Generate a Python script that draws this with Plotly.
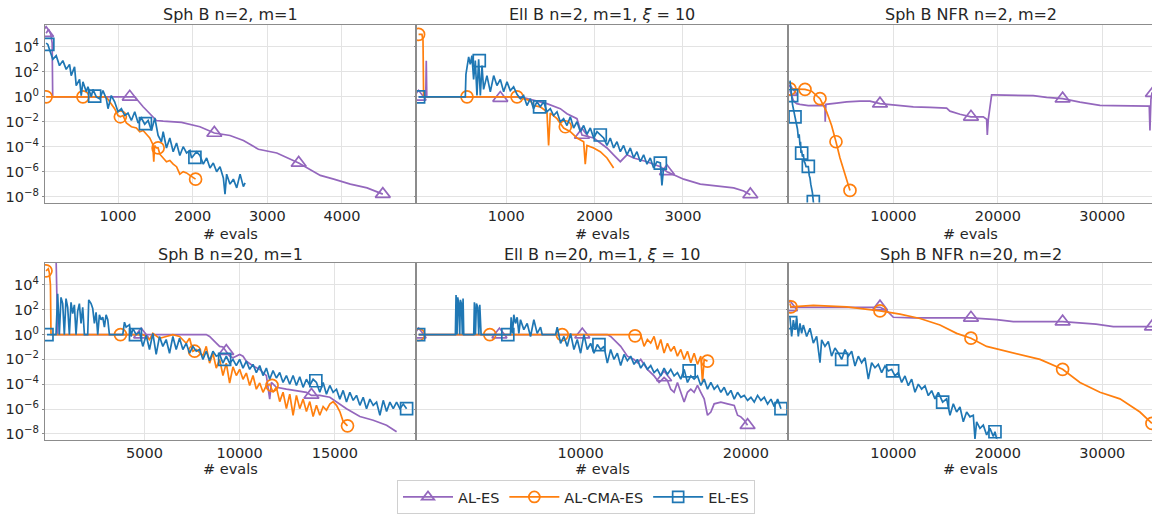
import numpy as np
import plotly.graph_objects as go

# ---------------- data (x = # evals, e = log10 of the plotted value) ----------------
series_names = ["AL-ES", "AL-CMA-ES", "EL-ES"]
panel_titles = ["Sph B n=2, m=1", "Ell B n=2, m=1, <i>ξ</i> = 10", "Sph B NFR n=2, m=2",
                "Sph B n=20, m=1", "Ell B n=20, m=1, <i>ξ</i> = 10", "Sph B NFR n=20, m=2"]
y_tick_exps = [-8, -6, -4, -2, 0, 2, 4]
y_tick_text = ["10<sup>−8</sup>", "10<sup>−6</sup>", "10<sup>−4</sup>", "10<sup>−2</sup>",
               "10<sup>0</sup>", "10<sup>2</sup>", "10<sup>4</sup>"]
x_ticks_p1 = [1000, 2000, 3000, 4000]
x_ticks_p2 = [1000, 2000, 3000]
x_ticks_p3 = [10000, 20000, 30000]
x_ticks_p4 = [5000, 10000, 15000]
x_ticks_p5 = [10000, 20000]
x_ticks_p6 = [10000, 20000, 30000]

# Panel 1: Sph B n=2, m=1
p1_al_es = [(37, 5.1), (70, 5.4), (100, 5.0), (118, 4.3), (125, 0.0), (1224, 0.0), (1336, -0.8),
            (1515, -1.9), (1605, -1.95), (1851, -2.05), (2097, -2.4), (2290, -2.9), (2500, -3.1),
            (2680, -3.5), (2880, -4.2), (3127, -4.5), (3420, -5.3), (3710, -6.3), (3890, -6.6),
            (4112, -7.0), (4336, -7.3), (4547, -7.8)]
p1_al_es_marks = [(37, 5.1), (1157, 0.0), (2290, -2.9), (3420, -5.3), (4547, -7.8)]
p1_al_cma = [(37, 0.0), (843, 0.0), (888, -0.4), (955, -0.95), (1000, -1.5), (1031, -1.6),
             (1067, -1.5), (1112, -2.1), (1179, -2.4), (1246, -2.5), (1291, -2.8), (1336, -2.7),
             (1381, -3.0), (1425, -3.3), (1465, -3.8), (1479, -5.2), (1490, -3.9), (1515, -4.1),
             (1537, -4.1), (1560, -4.6), (1605, -4.9), (1649, -5.2), (1694, -5.1), (1739, -5.4),
             (1784, -5.6), (1828, -6.2), (1873, -6.0), (1918, -6.1), (1963, -6.3), (2039, -6.6)]
p1_al_cma_marks = [(37, 0.0), (530, 0.0), (1031, -1.6), (1537, -4.1), (2039, -6.6)]
p1_el_es = [(37, 4.3), (60, 4.2), (82, 3.8), (127, 3.0), (172, 3.3), (216, 2.5), (261, 2.9),
            (306, 2.2), (351, 2.6), (373, 1.7), (418, 2.4), (440, 0.9), (485, 1.4), (507, 0.1),
            (530, 1.2), (575, 0.4), (597, 0.8), (642, 0.0), (664, 0.6), (709, 0.0), (754, -0.15),
            (798, 0.5), (843, -0.15), (866, -0.95), (910, 0.1), (955, -0.4), (1000, -1.2),
            (1045, -0.95), (1090, -1.5), (1134, -1.3), (1179, -1.9), (1224, -1.2), (1269, -2.1),
            (1313, -1.7), (1358, -2.2), (1403, -1.9), (1448, -2.7), (1493, -1.7), (1537, -3.1),
            (1582, -3.6), (1605, -2.8), (1649, -4.1), (1694, -3.3), (1739, -4.4), (1784, -3.7),
            (1828, -4.7), (1873, -4.0), (1918, -4.5), (1963, -4.3), (1985, -4.9), (2052, -4.4),
            (2097, -4.7), (2142, -5.4), (2187, -4.9), (2232, -5.7), (2276, -5.3), (2321, -6.0),
            (2366, -5.6), (2411, -6.5), (2433, -7.8), (2455, -6.2), (2500, -7.0), (2545, -6.6),
            (2590, -7.3), (2635, -6.2), (2679, -7.2), (2702, -6.9)]
p1_el_es_marks = [(60, 4.2), (687, 0.05), (1367, -2.15), (2030, -4.86)]

# Panel 2: Ell B n=2, m=1, xi=10
p2_al_es = [(7, 0.0), (88, 0.0), (94, 2.9), (100, 0.0), (1159, 0.0), (1309, -0.3), (1460, -0.55),
            (1611, -0.95), (1687, -1.35), (1800, -1.75), (1857, -3.06), (1989, -3.3), (2140, -4.1),
            (2215, -4.65), (2291, -5.2), (2366, -4.65), (2442, -4.9), (2593, -5.2), (2744, -5.6),
            (2819, -6.0), (3008, -6.6), (3196, -7.0), (3385, -7.15), (3574, -7.3), (3687, -7.55),
            (3763, -7.85)]
p2_al_es_marks = [(7, 0.0), (932, -0.1), (1857, -3.06), (2819, -5.97), (3763, -7.83)]
p2_al_cma = [(7, 5.0), (45, 5.0), (57, 4.5), (64, 0.0), (1121, 0.0), (1196, -0.15), (1272, -0.3),
             (1309, -0.7), (1385, -0.8), (1460, -1.2), (1479, -3.9), (1498, -1.3), (1574, -1.75),
             (1649, -2.5), (1725, -2.8), (1800, -3.3), (1876, -3.6), (1894, -5.4), (1913, -3.9),
             (1989, -4.1), (2064, -4.4), (2140, -4.9), (2215, -5.7)]
p2_al_cma_marks = [(7, 5.0), (555, 0.0), (1121, 0.0), (1668, -2.4)]
p2_el_es = [(7, 0.0), (536, 0.0), (543, 1.8), (574, 3.2), (592, 2.6), (611, 3.3), (630, 1.4),
            (649, 2.9), (668, 0.1), (687, 3.0), (706, 0.1), (725, 2.5), (743, 0.6), (781, 1.7),
            (819, 0.4), (857, 1.7), (894, 0.9), (932, 1.4), (970, 0.4), (1008, 1.2), (1045, 0.5),
            (1083, 0.8), (1121, 0.2), (1159, -0.15), (1196, 0.1), (1234, -0.7), (1272, -0.15),
            (1309, -0.95), (1347, -0.4), (1385, -0.8), (1423, -0.4), (1460, -1.2), (1498, -0.95),
            (1536, -1.5), (1574, -1.2), (1611, -2.0), (1649, -1.75), (1687, -2.3), (1725, -1.6),
            (1762, -2.5), (1800, -2.0), (1838, -2.8), (1876, -2.3), (1913, -3.0), (1951, -2.5),
            (1989, -3.3), (2027, -2.8), (2064, -3.06), (2102, -3.3), (2140, -3.9), (2177, -3.3),
            (2215, -4.1), (2253, -3.6), (2291, -4.4), (2328, -3.9), (2366, -4.65), (2404, -4.1),
            (2442, -4.9), (2479, -4.4), (2517, -5.2), (2555, -4.65), (2593, -5.4), (2630, -4.9),
            (2668, -5.7), (2706, -5.2), (2744, -5.3), (2762, -7.1), (2781, -5.7)]
p2_el_es_marks = [(7, 0.0), (694, 2.9), (1377, -0.8), (2064, -3.06), (2744, -5.31)]

# Panel 3: Sph B NFR n=2, m=2
p3_al_es = [(111, 0.5), (270, 0.0), (430, -0.3), (590, -0.45), (750, -0.55), (1068, -0.6),
            (1866, -0.7), (3000, -0.68), (3460, -0.7), (3480, -2.0), (3550, -0.6), (4577, -0.5),
            (5534, -0.4), (6810, -0.35), (7767, -0.35), (8724, -0.55), (10319, -0.68),
            (11914, -0.8), (13509, -0.85), (15104, -0.9), (15423, -1.15), (16380, -1.4),
            (17433, -1.6), (18613, -1.6), (18932, -1.8), (18996, -3.06), (19092, -1.8),
            (19411, 0.15), (19570, 0.15), (21484, 0.15), (23398, 0.1), (24674, -0.05),
            (26205, -0.15), (27864, -0.42), (29778, -0.68), (31054, -0.7), (32649, -0.72),
            (34244, -0.75), (34499, -0.75), (34563, -2.7), (34659, -0.2), (34754, 0.3), (35000, 0.3)]
p3_al_es_marks = [(111, 0.4), (8724, -0.55), (17433, -1.6), (26205, -0.15), (34850, 0.3)]
p3_al_cma = [(111, 0.64), (800, 0.62), (1547, 0.6), (2185, 0.45), (2982, -0.15), (3620, -1.2),
             (4092, -2.3), (4513, -3.6), (4896, -4.9), (5375, -6.2), (5853, -7.5)]
p3_al_cma_marks = [(111, 0.64), (1547, 0.6), (2982, -0.15), (4513, -3.6), (5853, -7.5)]
p3_el_es = [(111, 1.3), (207, 0.2), (270, 0.1), (350, -0.6), (430, -0.9), (510, -1.4), (590, -1.6),
            (670, -1.9), (750, -2.3), (830, -2.6), (909, -3.3), (990, -3.0), (1068, -3.9),
            (1120, -3.6), (1164, -4.5), (1228, -4.3), (1300, -4.8), (1387, -4.6), (1470, -5.2),
            (1547, -5.3), (1650, -5.6), (1866, -5.6), (1950, -6.3), (2025, -6.5), (2100, -7.0),
            (2185, -7.3), (2260, -7.7), (2344, -8.4), (2420, -8.8)]
p3_el_es_marks = [(270, 0.1), (590, -1.61), (1228, -4.52), (1866, -5.58), (2344, -8.4)]

# Panel 4: Sph B n=20, m=1
p4_al_es = [(352, 6.5), (440, 0.0), (8245, 0.0), (8420, -0.15), (8771, -0.68), (8947, -0.95),
            (9122, -1.0), (9297, -1.34), (9473, -1.74), (9648, -1.87), (9999, -1.6), (10175, -1.74),
            (10350, -2.14), (10701, -2.53), (11052, -2.8), (11402, -3.3), (11578, -5.2),
            (11665, -3.86), (11929, -4.25), (12455, -4.4), (12981, -4.5), (13507, -4.65),
            (13770, -4.9), (14209, -4.9), (14735, -5.05), (15086, -5.44), (15612, -5.97),
            (16314, -6.6), (17015, -6.9), (17717, -7.3), (18243, -7.83)]
p4_al_es_marks = [(4826, 0.0), (9297, -1.34), (13770, -4.86)]
p4_al_cma = [(-174, 5.14), (-50, 5.3), (1, 5.0), (60, 4.0), (89, 0.0), (3737, 0.0), (4912, 0.0),
             (5088, -0.15), (5263, -0.4), (5439, 0.1), (5789, -0.3), (6140, -0.15), (6491, 0.0),
             (6842, -0.15), (7193, -0.7), (7368, -0.3), (7543, -1.34), (7719, -1.2), (8070, -1.7),
             (8245, -0.95), (8420, -2.3), (8596, -1.5), (8771, -2.7), (8947, -2.0), (9122, -3.3),
             (9297, -2.3), (9473, -3.9), (9648, -2.6), (9824, -3.3), (9999, -2.8), (10175, -3.6),
             (10350, -3.1), (10525, -4.1), (10701, -3.3), (10876, -4.4), (11052, -3.9),
             (11227, -4.65), (11402, -4.1), (11578, -4.0), (11753, -4.65), (11929, -4.25),
             (12104, -5.4), (12279, -4.65), (12455, -5.97), (12630, -4.8), (12806, -6.5),
             (12981, -4.9), (13156, -5.97), (13332, -5.2), (13507, -6.2), (13683, -5.4),
             (13858, -6.6), (14033, -5.7), (14209, -6.5), (14384, -5.8), (14559, -6.1),
             (14735, -5.6), (14910, -5.4), (15086, -5.7), (15261, -6.2), (15436, -7.0),
             (15664, -7.35)]
p4_al_cma_marks = [(-174, 5.14), (3737, 0.0), (7631, -1.34), (11700, -4.1), (15664, -7.35)]
p4_el_es = [(-122, 0.0), (352, 0.0), (440, 3.3), (527, 0.0), (615, 3.0), (703, 2.5), (790, 0.0),
            (878, 2.9), (966, 2.2), (1054, 0.0), (1141, 2.6), (1229, 1.7), (1317, 2.4), (1404, 0.0),
            (1492, 1.9), (1580, 2.5), (1667, 0.9), (1755, 2.2), (1843, 0.0), (2018, 0.0),
            (2071, 2.8), (2194, 2.5), (2281, 2.1), (2369, 0.9), (2457, 1.8), (2544, 0.0),
            (2632, 1.6), (2720, 1.2), (2807, 1.4), (2895, 0.6), (2983, 1.6), (3071, 1.2),
            (3158, 0.0), (3860, 0.0), (3948, 1.0), (4035, 0.6), (4211, 0.8), (4298, -0.15),
            (4386, 0.5), (4561, 0.0), (4737, 0.2), (4912, -0.95), (5088, -0.05), (5263, -1.2),
            (5439, 0.1), (5614, -1.6), (5789, -0.15), (5965, -0.95), (6140, -0.4), (6316, -1.5),
            (6491, -0.15), (6666, -1.2), (6842, -0.3), (7017, -1.2), (7193, -0.7), (7368, -1.5),
            (7543, -0.95), (7719, -1.34), (7894, -1.2), (8070, -2.0), (8245, -1.34), (8420, -2.1),
            (8596, -1.34), (8771, -1.74), (8947, -1.6), (9122, -2.3), (9297, -1.74), (9473, -2.3),
            (9648, -2.0), (9824, -2.5), (9999, -2.0), (10175, -2.7), (10350, -2.14), (10525, -2.8),
            (10701, -2.4), (10876, -3.06), (11052, -2.5), (11227, -3.3), (11402, -2.7),
            (11578, -3.6), (11753, -2.9), (11929, -3.5), (12104, -3.06), (12279, -3.86),
            (12455, -3.3), (12630, -4.0), (12806, -3.3), (12981, -4.1), (13156, -3.4),
            (13332, -4.25), (13507, -3.6), (13683, -4.1), (13858, -3.6), (14033, -3.86),
            (14209, -4.65), (14384, -3.86), (14559, -4.8), (14735, -4.1), (14910, -4.65),
            (15086, -4.4), (15261, -5.2), (15436, -4.5), (15612, -5.44), (15787, -4.65),
            (15963, -5.3), (16138, -4.9), (16314, -5.7), (16489, -5.05), (16664, -5.97),
            (16840, -5.2), (17015, -5.7), (17191, -5.44), (17366, -6.5), (17542, -5.3),
            (17717, -6.2), (17892, -5.44), (18068, -5.97), (18243, -5.44), (18418, -5.97),
            (18594, -5.6), (18769, -5.97)]
p4_el_es_marks = [(-122, 0.0), (4526, 0.0), (9210, -2.0), (14000, -3.72), (18769, -5.97)]

# Panel 5: Ell B n=20, m=1, xi=10
p5_al_es = [(203, 0.0), (11616, 0.0), (11818, -0.15), (12222, -0.68), (12424, -0.95),
            (12828, -1.74), (13232, -2.0), (13434, -2.27), (13636, -2.0), (14040, -2.8),
            (14444, -3.33), (14747, -3.86), (15050, -3.46), (15252, -3.7), (15454, -4.4),
            (15656, -4.65), (15858, -3.86), (16060, -4.65), (16262, -5.44), (16464, -4.65),
            (16666, -4.4), (16868, -4.65), (17070, -4.1), (17272, -4.65), (17474, -5.18),
            (17676, -6.5), (17878, -6.24), (18080, -5.58), (18484, -5.44), (18888, -5.58),
            (19292, -5.71), (19494, -6.5), (19696, -6.63), (19898, -6.9), (20100, -7.3)]
p5_al_es_marks = [(203, 0.0), (5091, 0.0), (10101, 0.0), (15050, -3.46), (20100, -7.3)]
p5_al_cma = [(203, 0.0), (13636, 0.0), (13838, -0.95), (14040, -0.4), (14242, -0.68),
             (14444, -0.15), (14646, -1.2), (14848, -0.4), (15050, -1.48), (15252, -0.7),
             (15454, -1.34), (15656, -0.95), (15858, -1.74), (16060, -1.2), (16262, -2.0),
             (16464, -1.34), (16666, -2.27), (16868, -1.5), (17070, -2.4), (17272, -1.74),
             (17373, -3.86), (17474, -2.0), (17676, -2.14)]
p5_al_cma_marks = [(203, 0.0), (4506, 0.0), (8889, 0.0), (13293, -0.1), (17676, -2.14)]
p5_el_es = [(203, 0.0), (2425, 0.0), (2465, 3.2), (2526, 0.0), (2566, 3.0), (2627, 2.5),
            (2688, 0.0), (2728, 2.8), (2789, 2.5), (2849, 0.0), (2890, 2.9), (2930, 0.0),
            (3536, 0.0), (3576, 2.6), (3637, 0.0), (3698, 2.5), (3778, 2.2), (3839, 0.0),
            (3900, 2.4), (3980, 0.0), (5758, 0.0), (5798, 1.4), (5879, 0.1), (5960, 1.6),
            (6061, 0.9), (6162, 1.4), (6263, 0.1), (6364, 1.2), (6566, 0.4), (6768, 0.9),
            (6970, -0.15), (7172, 1.2), (7374, 0.1), (7576, 0.6), (7677, 0.0), (8485, 0.0),
            (8586, 0.6), (8788, -0.7), (8990, -0.15), (9192, -0.95), (9394, 0.1), (9596, -1.2),
            (9798, -0.4), (10000, -1.5), (10202, 0.0), (10404, -1.2), (10606, -0.7),
            (10808, -1.5), (11010, -0.8), (11212, -1.2), (11414, -0.95), (11616, -2.3),
            (11818, -1.2), (12020, -2.0), (12222, -1.5), (12424, -2.5), (12626, -1.6),
            (12828, -2.1), (13030, -1.74), (13232, -2.4), (13434, -2.0), (13636, -2.7),
            (13838, -2.3), (14040, -2.8), (14242, -2.5), (14444, -3.06), (14646, -2.8),
            (14848, -3.33), (15050, -2.7), (15252, -3.2), (15454, -2.8), (15656, -3.33),
            (15858, -3.06), (16060, -3.59), (16262, -2.8), (16464, -3.86), (16666, -3.33),
            (16868, -3.59), (17070, -3.33), (17272, -4.1), (17474, -3.59), (17676, -4.4),
            (17878, -3.86), (18080, -4.4), (18282, -4.1), (18484, -4.65), (18686, -4.25),
            (18888, -4.9), (19090, -4.5), (19292, -5.2), (19494, -4.65), (19696, -5.05),
            (19898, -4.9), (20100, -5.3), (20302, -5.05), (20504, -5.44), (20706, -4.9),
            (20908, -5.3), (21110, -5.05), (21312, -5.6), (21514, -5.2), (21716, -5.8),
            (21918, -5.2), (22120, -5.97)]
p5_el_es_marks = [(203, 0.0), (5596, 0.0), (11111, -0.81), (16565, -2.93), (22120, -5.97)]

# Panel 6: Sph B NFR n=20, m=2
p6_al_es = [(111, 2.2), (2000, 2.2), (5000, 2.2), (8724, 2.2), (9360, 1.95), (10000, 1.4),
            (11914, 1.35), (14466, 1.33), (17433, 1.35), (19890, 1.2), (21484, 1.05),
            (24674, 1.04), (26205, 1.04), (27800, 0.95), (29400, 0.85), (31054, 0.64),
            (34244, 0.64), (35000, 0.64)]
p6_al_es_marks = [(111, 2.2), (8724, 2.25), (17433, 1.35), (26205, 1.04), (34754, 0.64)]
p6_al_cma = [(111, 2.5), (207, 2.23), (2344, 2.36), (5534, 2.23), (8724, 1.91), (10638, 1.65),
             (12552, 1.3), (14466, 0.77), (16061, 0.1), (17433, -0.29), (18932, -0.95),
             (21484, -1.48), (24036, -2.0), (26205, -2.8), (27864, -3.86), (29778, -4.65),
             (31692, -5.18), (33606, -6.24), (34754, -7.16)]
p6_al_cma_marks = [(207, 2.23), (8724, 1.91), (17433, -0.29), (26205, -2.8), (34754, -7.16)]
p6_el_es = [(111, 1.4), (175, 0.96), (270, -0.15), (430, 1.17), (590, 0.38), (749, 1.3),
            (909, -0.15), (1068, 0.9), (1228, 0.11), (1387, 0.77), (1706, -0.15), (2025, 0.51),
            (2344, -0.68), (2663, -0.15), (2982, -2.27), (3141, -0.42), (3460, -0.95),
            (3779, -0.55), (4092, -1.74), (4417, -1.08), (4736, -1.48), (5055, -2.0),
            (5375, -1.21), (5694, -1.74), (6013, -1.34), (6332, -2.53), (6650, -1.74),
            (6970, -2.27), (7289, -1.87), (7608, -3.59), (7926, -2.27), (8246, -2.67),
            (8565, -2.4), (8884, -3.06), (9203, -2.53), (9522, -2.93), (9841, -2.8),
            (10160, -3.33), (10479, -3.06), (10798, -3.86), (11117, -3.33), (11436, -4.12),
            (11755, -3.59), (12074, -4.65), (12393, -3.99), (12712, -4.39), (13031, -4.12),
            (13350, -4.92), (13669, -4.52), (13988, -5.18), (14307, -4.65), (14721, -5.44),
            (15104, -5.18), (15423, -6.5), (15742, -5.58), (16061, -6.24), (16380, -5.84),
            (16699, -7.03), (17018, -6.24), (17337, -6.63), (17656, -6.5), (17816, -8.4),
            (17975, -7.03), (18294, -7.56), (18613, -7.3), (18932, -8.09), (19251, -7.56),
            (19570, -8.2), (19730, -7.83), (19890, -8.4)]
p6_el_es_marks = [(175, 0.96), (5055, -2.0), (9936, -2.93), (14721, -5.44), (19730, -7.83)]

# ---------------- styling / layout ----------------
COLORS = ["#9467bd", "#ff7f0e", "#1f77b4"]
SYMBOLS = ["triangle-up-open", "circle-open", "square-open"]
MSIZE = [13, 12, 12]
FONT = "DejaVu Sans"
W, H = 1152, 514

panels = [
    ([p1_al_es, p1_al_cma, p1_el_es], [p1_al_es_marks, p1_al_cma_marks, p1_el_es_marks], x_ticks_p1, [22, 4978]),
    ([p2_al_es, p2_al_cma, p2_el_es], [p2_al_es_marks, p2_al_cma_marks, p2_el_es_marks], x_ticks_p2, [-11, 4178]),
    ([p3_al_es, p3_al_cma, p3_el_es], [p3_al_es_marks, p3_al_cma_marks, p3_el_es_marks], x_ticks_p3, [16, 34760]),
    ([p4_al_es, p4_al_cma, p4_el_es], [p4_al_es_marks, p4_al_cma_marks, p4_el_es_marks], x_ticks_p4, [-226, 19210]),
    ([p5_al_es, p5_al_cma, p5_el_es], [p5_al_es_marks, p5_al_cma_marks, p5_el_es_marks], x_ticks_p5, [103, 22485]),
    ([p6_al_es, p6_al_cma, p6_el_es], [p6_al_es_marks, p6_al_cma_marks, p6_el_es_marks], x_ticks_p6, [16, 34760]),
]

col_px = [(45, 415), (417, 787), (789, 1152)]
row_px = [(25, 205), (266, 445)]
title_y_px = [15, 257]
xlabel_y_px = [237, 475]

fig = go.Figure()
layout = dict(
    width=W, height=H, margin=dict(l=0, r=0, t=0, b=0),
    paper_bgcolor="white", plot_bgcolor="white",
    font=dict(family=FONT, size=14.5, color="#262626"),
    showlegend=True,
    legend=dict(orientation="h", x=0.5, xanchor="center", y=1 - 486 / H, yanchor="top",
                bordercolor="#d0d0d0", borderwidth=1, font=dict(size=14.5, family=FONT),
                itemwidth=50, tracegroupgap=0),
    annotations=[],
)

for k, (series, marks, xt, xr) in enumerate(panels):
    r, c = divmod(k, 3)
    sfx = "" if k == 0 else str(k + 1)
    for s in range(3):
        pts = series[s]
        fig.add_trace(go.Scatter(
            x=[p[0] for p in pts], y=list(10.0 ** np.array([p[1] for p in pts])),
            mode="lines", line=dict(color=COLORS[s], width=1.7),
            xaxis="x" + sfx, yaxis="y" + sfx, showlegend=False, hoverinfo="skip"))
        mk = marks[s]
        fig.add_trace(go.Scatter(
            x=[p[0] for p in mk], y=list(10.0 ** np.array([p[1] for p in mk])),
            mode="markers",
            marker=dict(symbol=SYMBOLS[s], size=MSIZE[s], color=COLORS[s],
                        line=dict(width=1.7, color=COLORS[s])),
            xaxis="x" + sfx, yaxis="y" + sfx, showlegend=False, hoverinfo="skip"))

    x0, x1 = col_px[c]
    y0, y1 = row_px[r]
    xd = [x0 / W, min(x1 / W, 1.0)]
    yd = [1 - y1 / H, 1 - y0 / H]
    layout["xaxis" + sfx] = dict(
        domain=xd, range=xr, anchor="y" + sfx,
        tickvals=xt, ticktext=[str(v) for v in xt],
        showgrid=True, gridcolor="#e3e3e3", gridwidth=1, zeroline=False,
        showline=True, linecolor="#8c8c8c", linewidth=1.2, mirror=True,
        ticks="",
        tickfont=dict(size=14.5, family=FONT, color="#262626"))
    layout["yaxis" + sfx] = dict(
        domain=yd, type="log", range=[-8.48, 5.78], anchor="x" + sfx,
        tickvals=[10.0 ** e for e in y_tick_exps], ticktext=y_tick_text,
        showticklabels=(c == 0),
        showgrid=True, gridcolor="#e3e3e3", gridwidth=1, zeroline=False,
        showline=True, linecolor="#8c8c8c", linewidth=1.2, mirror=(c < 2),
        ticks="outside", ticklen=2, tickcolor="#8c8c8c", tickwidth=1,
        tickfont=dict(size=14.5, family=FONT, color="#262626"))
    layout["annotations"].append(dict(
        text=panel_titles[k], x=(x0 + x1) / 2 / W, y=1 - title_y_px[r] / H,
        xref="paper", yref="paper", showarrow=False, xanchor="center", yanchor="middle",
        font=dict(size=16, family=FONT, color="#262626")))
    layout["annotations"].append(dict(
        text="# evals", x=(x0 + x1) / 2 / W, y=1 - xlabel_y_px[r] / H,
        xref="paper", yref="paper", showarrow=False, xanchor="center", yanchor="middle",
        font=dict(size=14.5, family=FONT, color="#262626")))

for s in range(3):
    fig.add_trace(go.Scatter(
        x=[None], y=[None], mode="lines+markers", name=series_names[s],
        line=dict(color=COLORS[s], width=1.7),
        marker=dict(symbol=SYMBOLS[s], size=11, color=COLORS[s],
                    line=dict(width=1.7, color=COLORS[s])),
        showlegend=True))

fig.update_layout(**layout)
fig.write_html("out.html")
